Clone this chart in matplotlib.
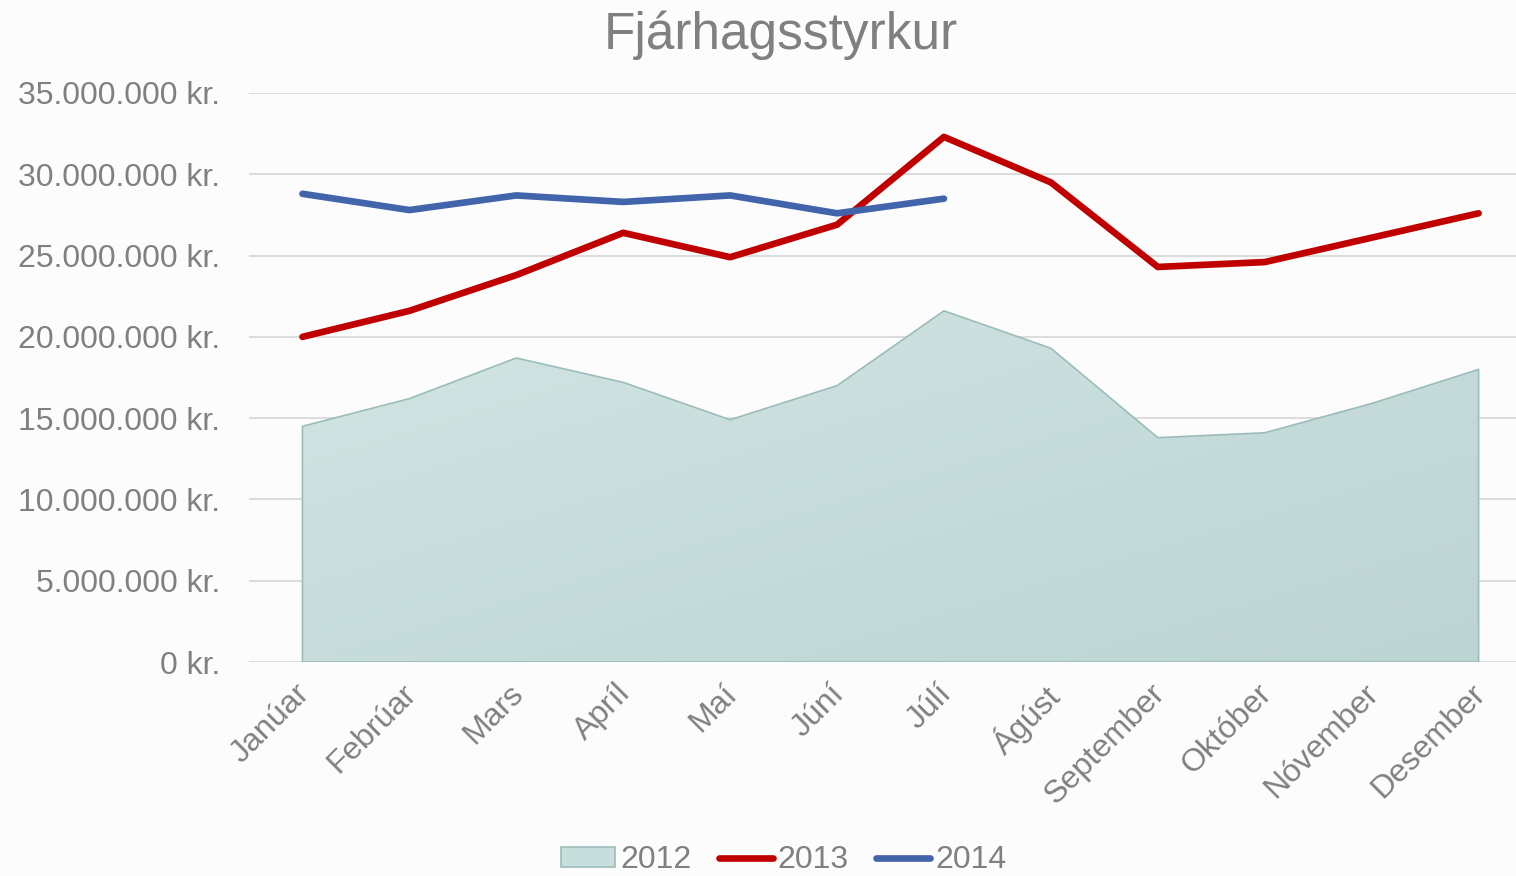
import numpy as np
import matplotlib.pyplot as plt
import matplotlib.transforms as mtransforms
from matplotlib.patches import Patch
from matplotlib.lines import Line2D
from matplotlib.colors import LinearSegmentedColormap

plt.rcParams['font.family'] = ['Liberation Sans', 'DejaVu Sans']

months = ['Janúar', 'Febrúar', 'Mars', 'Apríl', 'Maí', 'Júní', 'Júlí',
          'Ágúst', 'September', 'Október', 'Nóvember', 'Desember']
# values in millions kr.
y2012 = [14.5, 16.2, 18.7, 17.2, 14.9, 17.0, 21.6, 19.3, 13.8, 14.1, 15.9, 18.0]
y2013 = [20.0, 21.6, 23.8, 26.4, 24.9, 26.9, 32.3, 29.5, 24.3, 24.6, 26.1, 27.6]
y2014 = [28.8, 27.8, 28.7, 28.3, 28.7, 27.6, 28.5]

grey = '#808080'
bg = '#fcfcfc'

fig = plt.figure(figsize=(15.16, 8.76), dpi=100, facecolor=bg)
ax = fig.add_axes([249/1516, 1 - 662/876, 1 - 249/1516, (662 - 93)/876])
ax.set_facecolor(bg)

x = np.arange(len(months))
v12 = np.array(y2012) * 1e6

# gradient filled area for 2012
poly = ax.fill_between(x, 0, v12, facecolor='none', edgecolor='#9bbdb9', linewidth=1.2, zorder=2)
cmap = LinearSegmentedColormap.from_list('g', ['#d2e5e4', '#bcd4d2'])
grad = np.add.outer(np.linspace(0, 1, 100), np.linspace(0, 1, 200)) / 2
im = ax.imshow(grad, cmap=cmap, extent=[0, 11, 0, 22e6], aspect='auto',
               origin='upper', zorder=1, interpolation='bilinear')
im.set_clip_path(poly.get_paths()[0], transform=ax.transData)

ax.plot(x, np.array(y2013) * 1e6, color='#c00000', lw=4.8, solid_capstyle='round', zorder=3)
ax.plot(x[:len(y2014)], np.array(y2014) * 1e6, color='#4264aa', lw=4.8,
        solid_capstyle='round', zorder=4)

ax.set_xlim(-0.5, 11.35)
ax.set_ylim(0, 35e6)
yt = np.arange(0, 35e6 + 1, 5e6)
ax.set_yticks(yt)
ax.set_yticklabels(['{:,.0f} kr.'.format(v).replace(',', '.') for v in yt],
                   fontsize=23, color=grey)
ax.set_xticks(x)
ax.set_xticklabels(months, rotation=45, ha='right', rotation_mode='anchor',
                   fontsize=23, color=grey)
ax.tick_params(length=0, axis='y', pad=21)
ax.tick_params(length=0, axis='x', pad=12)
shift = mtransforms.ScaledTranslation(-8 / 100, 0, fig.dpi_scale_trans)
for lbl in ax.get_xticklabels():
    lbl.set_transform(lbl.get_transform() + shift)
ax.grid(axis='y', color='#d9d9d9', lw=1.3, zorder=0)
ax.set_axisbelow(True)
for s in ax.spines.values():
    s.set_visible(False)

fig.text(0.515, 0.96, 'Fjárhagsstyrkur', ha='center', va='center', fontsize=37, color=grey)

handles = [Patch(facecolor='#c8dedd', edgecolor='#9bbdb9', lw=1.2),
           Line2D([], [], color='#c00000', lw=4.8, solid_capstyle='round'),
           Line2D([], [], color='#4264aa', lw=4.8, solid_capstyle='round')]
fig.legend(handles, ['2012', '2013', '2014'], loc='center', bbox_to_anchor=(0.517, 0.018),
           ncol=3, frameon=False, fontsize=23, labelcolor=grey, handlelength=1.7,
           handletextpad=0.15, columnspacing=0.85, handleheight=0.6)

fig.savefig('out.png', dpi=100, facecolor=bg)
